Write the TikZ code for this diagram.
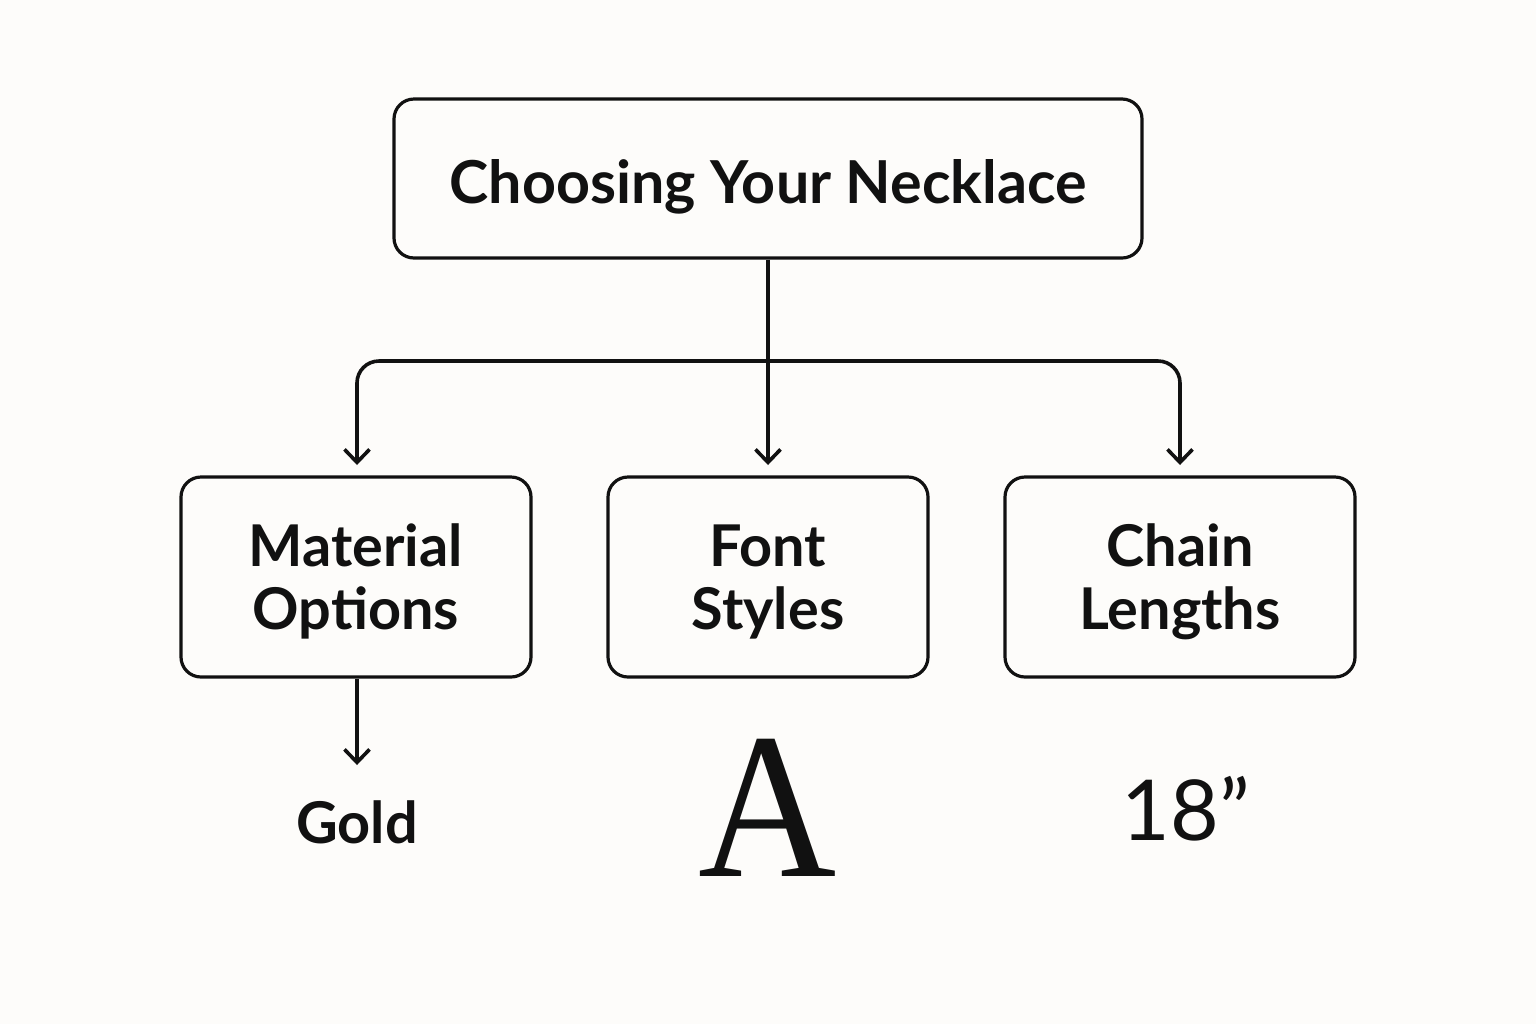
\documentclass[tikz,border=0pt]{standalone}
\usepackage{fontspec}
\setmainfont{Lato}
\newfontfamily\boldsans{Lato Bold}
\newfontfamily\serifA{Liberation Serif}
\usetikzlibrary{arrows.meta}
\definecolor{bg}{HTML}{FDFCFA}
\definecolor{ink}{HTML}{111111}
\newcommand{\twolines}[2]{\raisebox{0pt}[22pt][33pt]{\begin{tabular}[t]{@{}c@{}}#1\\#2\end{tabular}}}
\begin{document}
\begin{tikzpicture}[x=0.5pt,y=-0.5pt,
  box/.style={draw=ink, line width=1.6pt, rounded corners=10pt, align=center, inner sep=0pt, text=ink},
  arr/.style={draw=ink, line width=1.8pt, -{Straight Barb[length=6.5pt,width=12.5pt]}},
  lbl/.style={font=\boldsans\fontsize{28.8pt}{31.5pt}\selectfont}
]
\fill[bg] (0,0) rectangle (1536,1024);
\useasboundingbox (0,0) rectangle (1536,1024);
\node[box, minimum width=374pt, minimum height=79.5pt, font=\boldsans\fontsize{29.6pt}{33pt}\selectfont] (top) at (768,178.5) {\raisebox{0pt}[24.5pt][0pt]{Choosing Your Necklace}};
\node[box, lbl, minimum width=175pt, minimum height=100pt] (mat) at (356,577) {\twolines{Material}{Options}};
\node[box, lbl, minimum width=160pt, minimum height=100pt] (fs) at (768,577) {\twolines{Font}{Styles}};
\node[box, lbl, minimum width=175pt, minimum height=100pt] (cl) at (1180,577) {\twolines{Chain}{Lengths}};
\coordinate (hub) at (768,361);
\coordinate (mtip) at (357,465);
\coordinate (ftip) at (768,465);
\coordinate (ctip) at (1180,465);
\draw[arr] (top.south) -- (ftip);
\draw[arr, rounded corners=11pt] (hub) -| (mtip);
\draw[arr, rounded corners=11pt] (hub) -| (ctip);
\coordinate (gtip) at (357,765);
\draw[arr] (mat.south -| gtip) -- (gtip);
\node[anchor=base, lbl, text=ink] (gold) at (357,843) {Gold};
\node[anchor=base, font=\serifA\fontsize{104pt}{104pt}\selectfont, text=ink] (bigA) at (768,876) {\scalebox{0.92}[1]{A}};
\node[anchor=base, font=\fontsize{42pt}{42pt}\selectfont, text=ink] (len) at (1186,840) {18”};
\end{tikzpicture}
\end{document}
